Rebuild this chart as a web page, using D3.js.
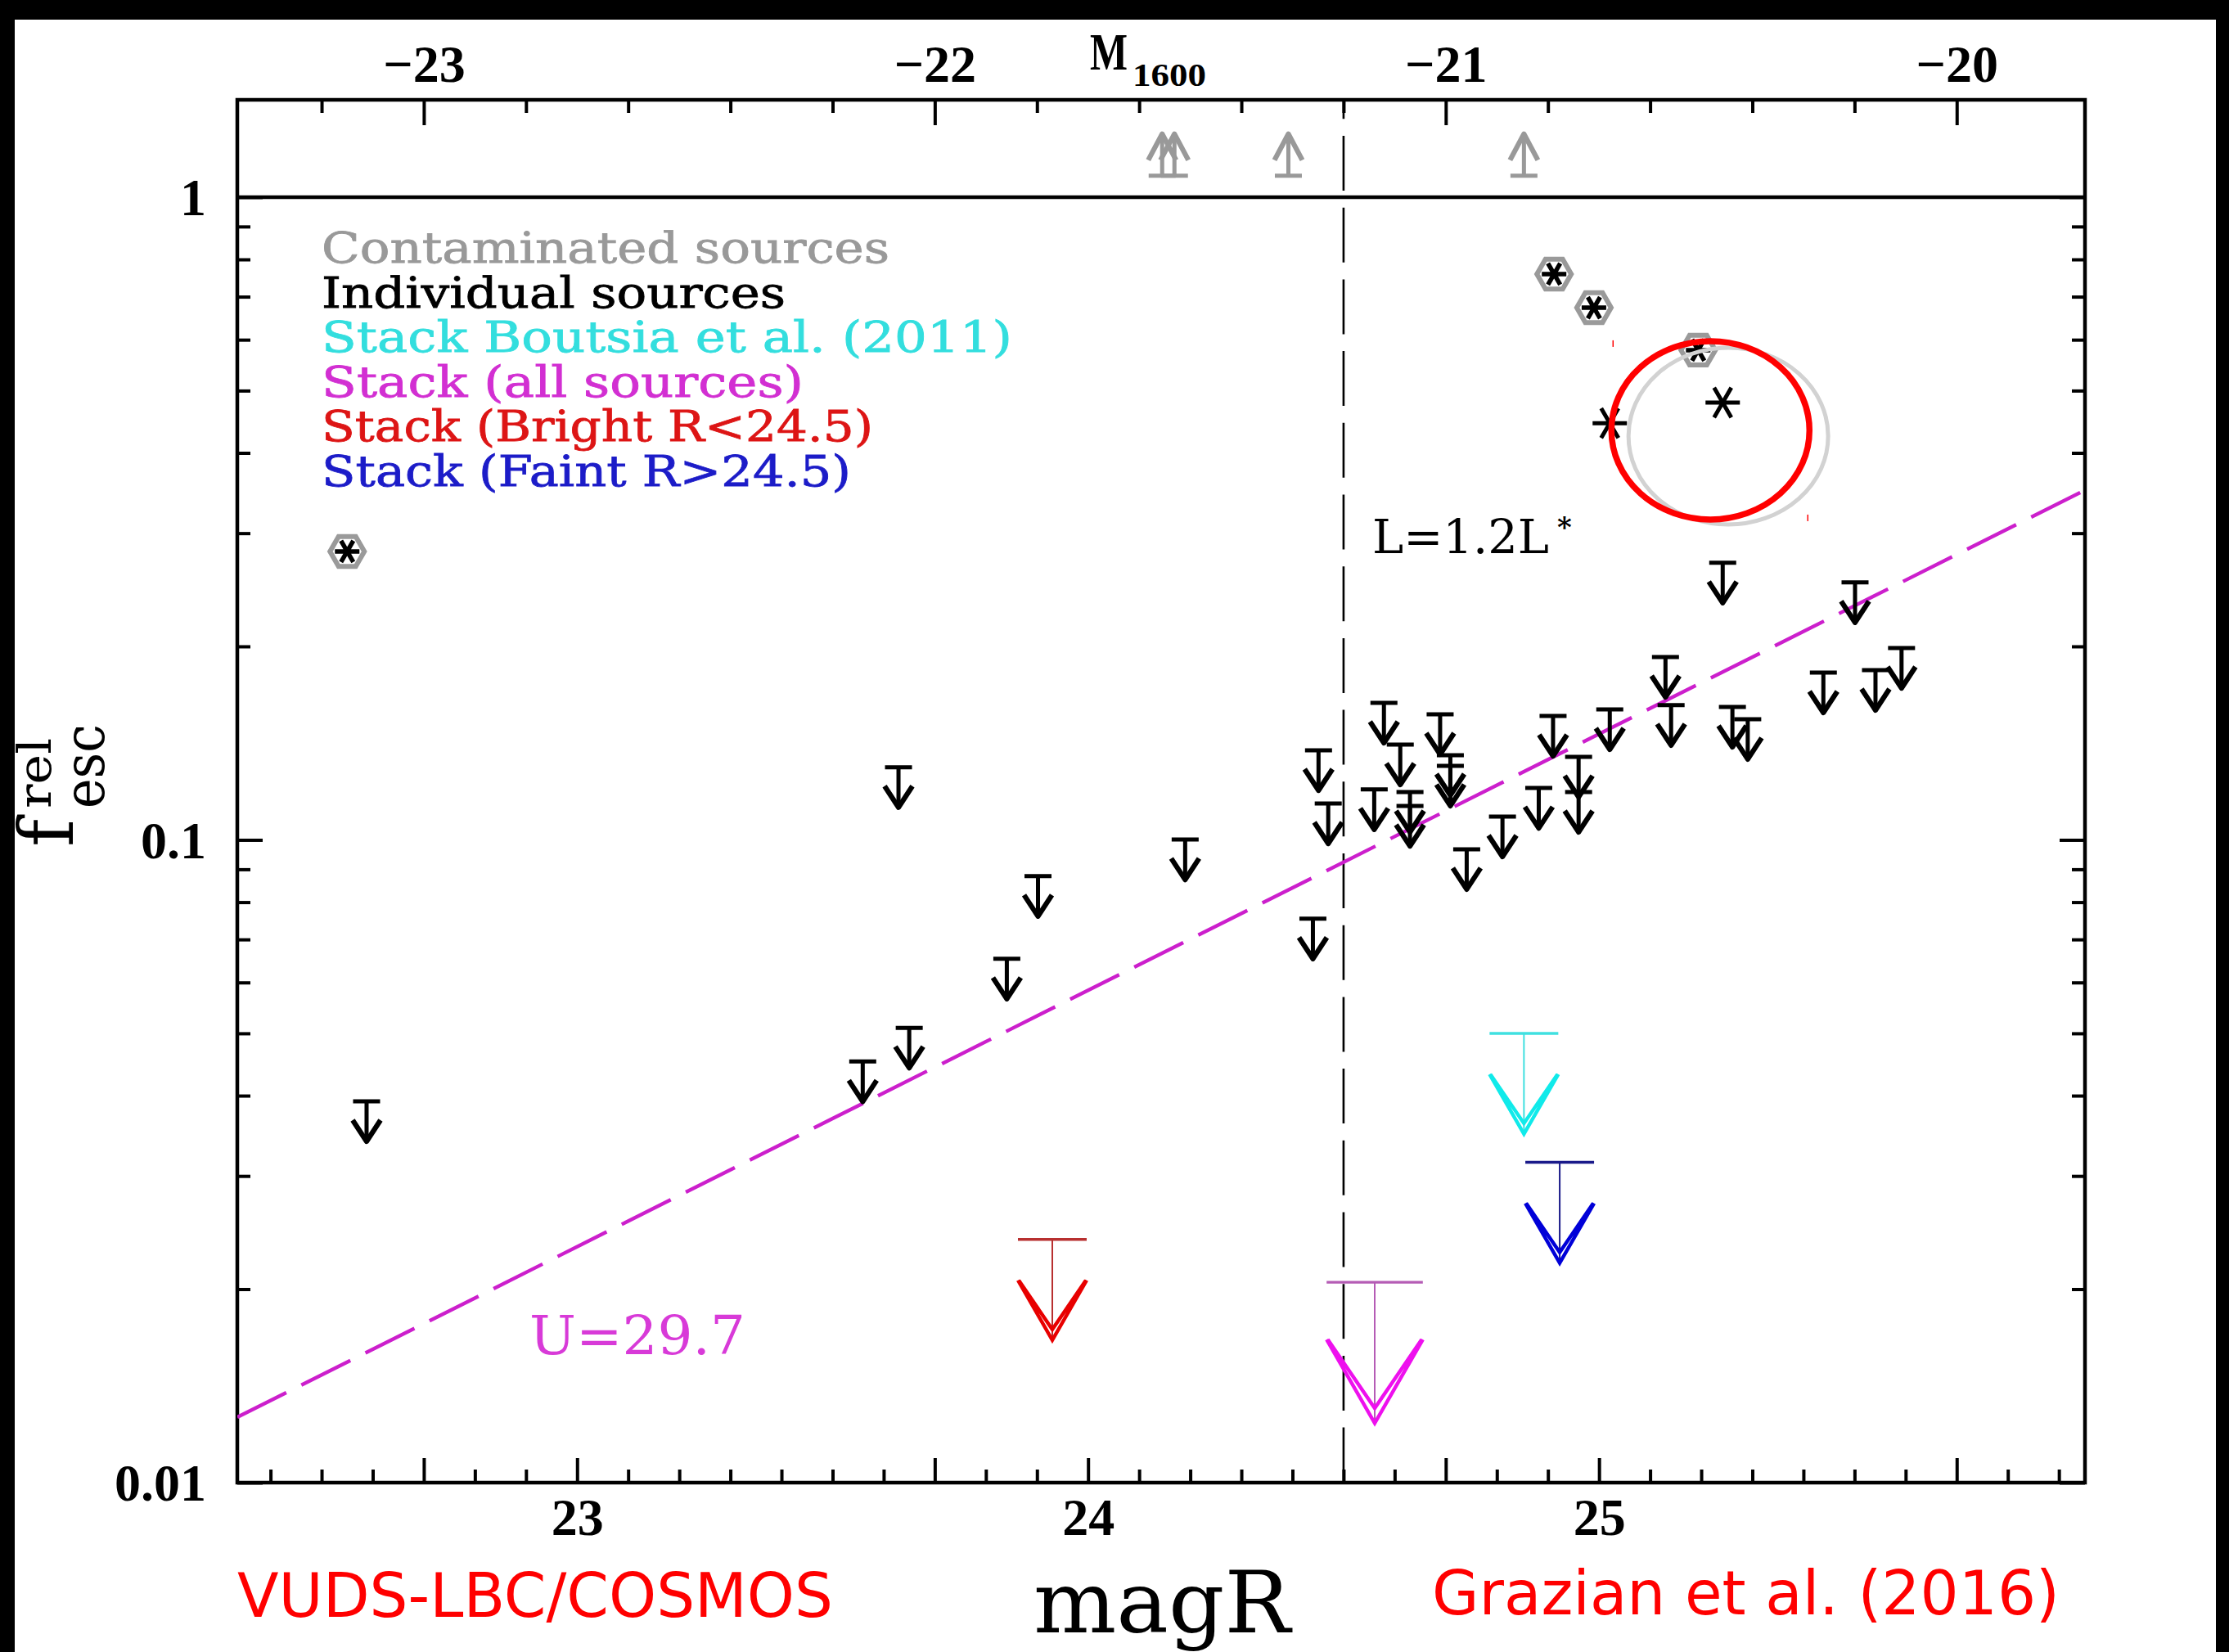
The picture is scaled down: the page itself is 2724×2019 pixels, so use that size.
<!DOCTYPE html>
<html>
<head>
<meta charset="utf-8">
<script src="https://cdn.jsdelivr.net/npm/d3@7"></script>
<style>
  body { margin: 0; background: #000; }
  svg { display: block; }
</style>
</head>
<body>
<script>
'use strict';

// ---- data ----
// individual sources: upper limits (magR, f_esc^rel)
const indivR = [22.588, 23.559, 23.629, 23.650, 23.841, 23.902, 24.190, 24.440, 24.451, 24.470,
  24.560, 24.579, 24.611, 24.630, 24.630, 24.689, 24.709, 24.709, 24.741, 24.811,
  24.882, 24.910, 24.960, 24.960, 25.021, 25.130, 25.141, 25.242, 25.261, 25.291,
  25.439, 25.501, 25.541, 25.592];
const indivF = [0.0392, 0.0452, 0.1297, 0.0510, 0.0653, 0.0878, 0.1001, 0.0754, 0.1378, 0.1139,
  0.1198, 0.1634, 0.1407, 0.1187, 0.1129, 0.1568, 0.1354, 0.1304, 0.0967, 0.1087,
  0.1204, 0.1559, 0.1346, 0.1187, 0.1596, 0.1925, 0.1620, 0.2698, 0.1610, 0.1541,
  0.1821, 0.2515, 0.1837, 0.1988];

// contaminated sources (asterisk in grey hexagon)
const contamR = [22.550, 24.912, 24.990, 25.194];
const contamF = [0.281, 0.759, 0.673, 0.578];

// plain detections (black asterisk)
const detR = [25.021, 25.242];
const detF = [0.445, 0.479];

// contaminated lower limits drawn above f = 1
const lowR = [24.145, 24.169, 24.392, 24.853];
const lowF = [1.08, 1.08, 1.08, 1.08];

// stacked upper limits
const stackNames = ['boutsia', 'all', 'bright', 'faint'];
const stackR = [24.853, 24.561, 23.930, 24.923];
const stackF = [0.0500, 0.0205, 0.0239, 0.0315];

// magenta dashed relation (end points)
const fitR = [22.335, 25.951];
const fitF = [0.01264, 0.350];

// L = 1.2 L* limit
const lstarR = 24.5;

// hand-drawn circles (centres)
const circleR = [25.253, 25.218];
const circleF = [0.4249, 0.4337];

const legendLabels = ['Contaminated sources', 'Individual sources', 'Stack Boutsia et al. (2011)',
  'Stack (all sources)', 'Stack (Bright R<24.5)', 'Stack (Faint R>24.5)'];

const magTicks = d3.range(224, 260).map(v => v / 10);
const magLabels = [23, 24, 25];
const absTicks = d3.range(-232, -198, 2).map(v => v / 10);
const absLabels = [-23, -22, -21, -20];
const fTicks = d3.range(1, 10).map(k => k / 100).concat(d3.range(1, 10).map(k => k / 10), [1]);
const fLabels = [0.01, 0.1, 1];
const distMod = 45.7;

// ---- styles ----
const W = 2724, H = 2019;
const frameL = 290, frameR = 2548, frameT = 122, frameB = 1812;
const legendColors = ['#999999', '#000000', '#33dede', '#d22fd2', '#dd1515', '#1c1cc8'];
const legendWidths = [694, 567, 844, 589, 674, 647];
const stackStyle = {
  boutsia: { bar: '#40e0e0', head: '#10eaea', k: 1 },
  all:     { bar: '#b55cb5', head: '#ee10ee', k: 1.4 },
  bright:  { bar: '#b83030', head: '#e80000', k: 1 },
  faint:   { bar: '#1a1a8a', head: '#0000d8', k: 1 }
};
const tickFont = '"Liberation Serif", "DejaVu Serif", serif';
const textFont = '"DejaVu Serif", serif';

// ---- scales ----
const x = d3.scaleLinear().domain([22.335, 25.951]).range([frameL, frameR]);
const xAbs = d3.scaleLinear().domain([22.335 - distMod, 25.951 - distMod]).range([frameL, frameR]);
const y = d3.scaleLog().domain([0.01, 1.417]).range([frameB, frameT]);

const svg = d3.select('body').append('svg')
  .attr('width', W)
  .attr('height', H);

svg.append('rect').attr('width', W).attr('height', H).attr('fill', '#000');
svg.append('rect').attr('x', 18).attr('y', 24).attr('width', 2690).attr('height', H - 24).attr('fill', '#fff');

svg.append('clipPath').attr('id', 'plot')
  .append('rect').attr('x', frameL).attr('y', frameT).attr('width', frameR - frameL).attr('height', frameB - frameT);

const isInt = v => Math.abs(v - Math.round(v)) < 1e-6;

// bottom axis: magR (long ticks also at integer M1600)
const gB = svg.append('g')
  .attr('transform', `translate(0,${frameB})`)
  .call(d3.axisBottom(x).tickValues(magTicks).tickSizeInner(-16).tickSizeOuter(0).tickPadding(0)
    .tickFormat(d => magLabels.includes(d) ? d3.format('d')(d) : ''));
gB.select('.domain').remove();
gB.selectAll('.tick line').attr('y2', d => (isInt(d) || isInt(d - 0.7)) ? -30 : -16).attr('stroke-width', 4);
gB.selectAll('.tick text').attr('y', 64).attr('dy', null)
  .attr('font-size', 64).attr('font-family', tickFont).attr('font-weight', 'bold');

// top axis: M1600
const gT = svg.append('g')
  .attr('transform', `translate(0,${frameT})`)
  .call(d3.axisTop(xAbs).tickValues(absTicks).tickSizeInner(-16).tickSizeOuter(0).tickPadding(0)
    .tickFormat(d => absLabels.includes(Math.round(d)) && isInt(d) ? d3.format('d')(Math.round(d)) : ''));
gT.select('.domain').remove();
gT.selectAll('.tick line').attr('y2', d => isInt(d) ? 31 : 16).attr('stroke-width', 4);
gT.selectAll('.tick text').attr('y', -22).attr('dy', null)
  .attr('font-size', 64).attr('font-family', tickFont).attr('font-weight', 'bold');

// left axis
const gL = svg.append('g')
  .attr('transform', `translate(${frameL},0)`)
  .call(d3.axisLeft(y).tickValues(fTicks).tickSizeInner(-16).tickSizeOuter(0).tickPadding(38)
    .tickFormat(d => fLabels.includes(d) ? String(d) : ''));
gL.select('.domain').remove();
gL.selectAll('.tick line').attr('x2', d => fLabels.includes(d) ? 31 : 16).attr('stroke-width', 4);
gL.selectAll('.tick text').attr('dy', '0.34em')
  .attr('font-size', 64).attr('font-family', tickFont).attr('font-weight', 'bold');

// right axis
const gR = svg.append('g')
  .attr('transform', `translate(${frameR},0)`)
  .call(d3.axisRight(y).tickValues(fTicks).tickSizeInner(-16).tickSizeOuter(0).tickFormat(''));
gR.select('.domain').remove();
gR.selectAll('.tick line').attr('x2', d => fLabels.includes(d) ? -31 : -16).attr('stroke-width', 4);

// frame and the f = 1 line
svg.append('rect')
  .attr('x', frameL).attr('y', frameT).attr('width', frameR - frameL).attr('height', frameB - frameT)
  .attr('fill', 'none').attr('stroke', '#000').attr('stroke-width', 4.5);
svg.append('line')
  .attr('x1', frameL).attr('x2', frameR).attr('y1', y(1)).attr('y2', y(1))
  .attr('stroke', '#000').attr('stroke-width', 4.5);

const plot = svg.append('g').attr('clip-path', 'url(#plot)');

// L = 1.2 L* dashed line
plot.append('line')
  .attr('x1', x(lstarR)).attr('x2', x(lstarR)).attr('y1', frameT).attr('y2', frameB)
  .attr('stroke', '#000').attr('stroke-width', 2.6)
  .attr('stroke-dasharray', '67,20.7').attr('stroke-dashoffset', 43.7);

// magenta relation
plot.append('path')
  .datum(d3.zip(fitR, fitF))
  .attr('d', d3.line().x(d => x(d[0])).y(d => y(d[1])))
  .attr('fill', 'none').attr('stroke', '#cc1fcc').attr('stroke-width', 4.4)
  .attr('stroke-dasharray', '67,20.6');

// individual upper limits
const ul = plot.selectAll('.ul')
  .data(d3.zip(indivR, indivF))
  .enter()
  .append('g')
  .attr('class', 'ul')
  .attr('transform', d => `translate(${x(d[0])},${y(d[1])})`);
ul.append('path')
  .attr('d', 'M-16.5,0H16.5M0,0V44')
  .attr('fill', 'none').attr('stroke', '#000').attr('stroke-width', 5);
ul.append('path')
  .attr('d', 'M-17,23L0,49L17,23')
  .attr('fill', 'none').attr('stroke', '#000').attr('stroke-width', 6.2)
  .attr('stroke-linejoin', 'round');

// contaminated lower limits (grey, upward)
const ll = plot.selectAll('.ll')
  .data(d3.zip(lowR, lowF))
  .enter()
  .append('g')
  .attr('class', 'll')
  .attr('transform', d => `translate(${x(d[0])},${y(d[1])})`);
ll.append('path')
  .attr('d', 'M-16.5,0H16.5M0,0V-48')
  .attr('fill', 'none').attr('stroke', '#999').attr('stroke-width', 5);
ll.append('path')
  .attr('d', 'M-17,-19L0,-51L17,-19')
  .attr('fill', 'none').attr('stroke', '#999').attr('stroke-width', 6.2)
  .attr('stroke-linejoin', 'round');

// asterisk marker
function asterisk(r) {
  return [0, 60, 120].map(a => {
    const c = Math.cos(a * Math.PI / 180) * r, s = Math.sin(a * Math.PI / 180) * r;
    return `M${-c},${-s}L${c},${s}`;
  }).join('');
}
const hexagon = d3.range(6).map(i => {
  const a = i * Math.PI / 3;
  return [Math.cos(a) * 21, Math.sin(a) * 21];
});

const cont = plot.selectAll('.cont')
  .data(d3.zip(contamR, contamF))
  .enter()
  .append('g')
  .attr('class', 'cont')
  .attr('transform', d => `translate(${x(d[0])},${y(d[1])})`);
cont.append('path')
  .attr('d', 'M' + hexagon.join('L') + 'Z')
  .attr('fill', '#fff').attr('stroke', '#9a9a9a').attr('stroke-width', 6);
cont.append('path')
  .attr('d', asterisk(15))
  .attr('stroke', '#000').attr('stroke-width', 5.5);

plot.selectAll('.det')
  .data(d3.zip(detR, detF))
  .enter()
  .append('path')
  .attr('class', 'det')
  .attr('transform', d => `translate(${x(d[0])},${y(d[1])})`)
  .attr('d', asterisk(21))
  .attr('stroke', '#000').attr('stroke-width', 5);

// stacked upper limits
const stacks = plot.selectAll('.stack')
  .data(stackNames.map((n, i) => ({ name: n, r: stackR[i], f: stackF[i] })))
  .enter()
  .append('g')
  .attr('class', 'stack')
  .attr('transform', d => `translate(${x(d.r)},${y(d.f)})`);
stacks.append('path')
  .attr('d', d => { const k = stackStyle[d.name].k; return `M${-42 * k},0H${42 * k}`; })
  .attr('stroke', d => stackStyle[d.name].bar).attr('stroke-width', 3.4);
stacks.append('path')
  .attr('d', d => `M0,0V${123 * stackStyle[d.name].k}`)
  .attr('stroke', d => stackStyle[d.name].bar).attr('stroke-width', 2);
stacks.append('path')
  .attr('d', d => {
    const k = stackStyle[d.name].k;
    return `M${-42 * k},${50 * k}L0,${123 * k}L${42 * k},${50 * k}` +
      `M${-41 * k},${50 * k}L0,${110 * k}L${41 * k},${50 * k}`;
  })
  .attr('fill', 'none').attr('stroke', d => stackStyle[d.name].head).attr('stroke-width', 4.4)
  .attr('stroke-linejoin', 'miter');

// hand-drawn circles around two sources
plot.selectAll('.circ')
  .data(d3.zip(circleR, circleF))
  .enter()
  .append('ellipse')
  .attr('class', 'circ')
  .attr('cx', d => x(d[0])).attr('cy', d => y(d[1]))
  .attr('rx', (d, i) => i === 0 ? 122 : 121)
  .attr('ry', (d, i) => i === 0 ? 108 : 109)
  .attr('fill', 'none')
  .attr('stroke', (d, i) => i === 0 ? '#d2d2d2' : '#ff0000')
  .attr('stroke-width', (d, i) => i === 0 ? 5 : 7.5);
// the two stray red pixels of the circle's box
plot.selectAll('.speck')
  .data([[-119, -106], [119, 107]])
  .enter()
  .append('line')
  .attr('x1', d => x(circleR[1]) + d[0]).attr('x2', d => x(circleR[1]) + d[0])
  .attr('y1', d => y(circleF[1]) + d[1] - 4).attr('y2', d => y(circleF[1]) + d[1] + 4)
  .attr('stroke', '#f00').attr('stroke-width', 1.5);

// legend
svg.selectAll('.leg')
  .data(legendLabels)
  .enter()
  .append('text')
  .attr('class', 'leg')
  .attr('x', 393)
  .attr('y', (d, i) => 321 + i * 54.6)
  .attr('fill', (d, i) => legendColors[i])
  .attr('font-family', textFont)
  .attr('font-size', 52)
  .attr('stroke', (d, i) => legendColors[i]).attr('stroke-width', 0.8)
  .attr('textLength', (d, i) => legendWidths[i])
  .attr('lengthAdjust', 'spacingAndGlyphs')
  .text(d => d);

// annotations
svg.append('text')
  .attr('x', 1677).attr('y', 676)
  .attr('font-family', textFont).attr('font-size', 58)
  .attr('textLength', 216).attr('lengthAdjust', 'spacingAndGlyphs')
  .text('L=1.2L');
svg.append('text')
  .attr('x', 1903).attr('y', 656)
  .attr('font-family', textFont).attr('font-size', 34).attr('font-weight', 'bold')
  .text('*');

svg.append('text')
  .attr('x', 647).attr('y', 1655)
  .attr('fill', '#d83ad8')
  .attr('font-family', textFont).attr('font-size', 66)
  .attr('textLength', 264).attr('lengthAdjust', 'spacingAndGlyphs')
  .text('U=29.7');

// top axis title
const mt = svg.append('text')
  .attr('x', 1332).attr('y', 85)
  .attr('font-family', tickFont).attr('font-weight', 'bold').attr('font-size', 64);
mt.append('tspan').attr('textLength', 46).attr('lengthAdjust', 'spacingAndGlyphs').text('M');
mt.append('tspan').attr('x', 1384).attr('dy', 20).attr('font-size', 40)
  .attr('textLength', 90).attr('lengthAdjust', 'spacingAndGlyphs').text('1600');

// bottom axis title
svg.append('text')
  .attr('x', 1263).attr('y', 1995)
  .attr('font-family', textFont).attr('font-size', 105)
  .attr('textLength', 314).attr('lengthAdjust', 'spacingAndGlyphs')
  .text('magR');

// y axis title f_esc^rel
const yt = svg.append('text')
  .attr('transform', 'translate(89,1035)rotate(-90)')
  .attr('font-family', textFont).attr('font-size', 92);
yt.append('tspan').text('f');
yt.append('tspan').attr('x', 47).attr('dy', -27).attr('font-size', 56)
  .attr('textLength', 86).attr('lengthAdjust', 'spacingAndGlyphs').text('rel');
yt.append('tspan').attr('x', 47).attr('dy', 65).attr('font-size', 70)
  .attr('textLength', 103).attr('lengthAdjust', 'spacingAndGlyphs').text('esc');

// credits
svg.append('text')
  .attr('x', 290).attr('y', 1976)
  .attr('fill', '#ff0000')
  .attr('font-family', '"DejaVu Sans", sans-serif').attr('font-size', 75)
  .attr('textLength', 728).attr('lengthAdjust', 'spacingAndGlyphs')
  .text('VUDS-LBC/COSMOS');
svg.append('text')
  .attr('x', 1750).attr('y', 1973)
  .attr('fill', '#ff0000')
  .attr('font-family', '"DejaVu Sans", sans-serif').attr('font-size', 75)
  .attr('textLength', 767).attr('lengthAdjust', 'spacingAndGlyphs')
  .text('Grazian et al. (2016)');
</script>
</body>
</html>
